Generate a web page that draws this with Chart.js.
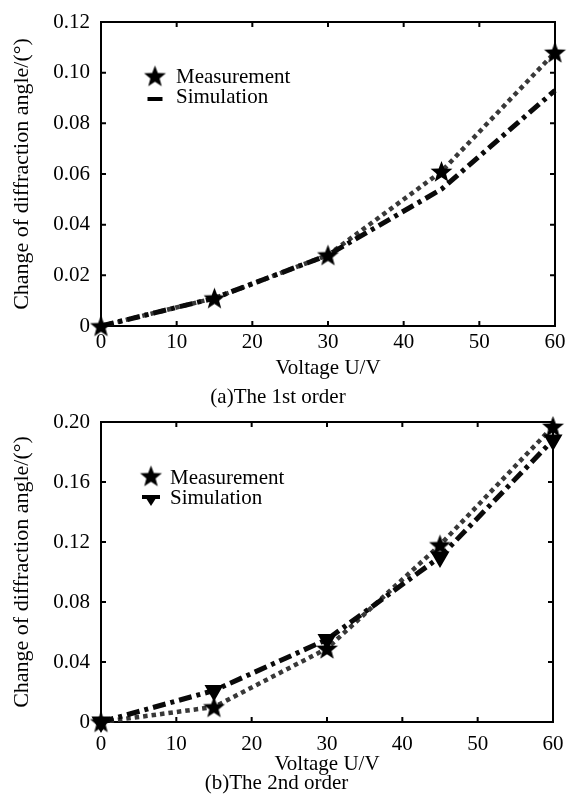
<!DOCTYPE html>
<html>
<head>
<meta charset="utf-8">
<title>Change of diffraction angle vs voltage</title>
<script src="https://cdn.jsdelivr.net/npm/chart.js@4.4.1/dist/chart.umd.min.js"></script>
<style>
  html, body { margin: 0; padding: 0; background: #fff; }
  #wrap { position: relative; width: 567px; height: 801px; }
  canvas { position: absolute; left: 0; }
  #chart-a { top: 0; }
  #chart-b { top: 410px; }
</style>
</head>
<body>
<div id="wrap">
  <canvas id="chart-a" width="567" height="410"></canvas>
  <canvas id="chart-b" width="567" height="391"></canvas>
</div>
<script>
// --- values ---
const voltage = [0, 15, 30, 45, 60];
const xTicks = [0, 10, 20, 30, 40, 50, 60];

// (a) 1st order
const measured1 = [0, 0.011, 0.028, 0.061, 0.108];
const simulated1 = [0, 0.011, 0.028, 0.054, 0.093];
const yTicks1 = [0, 0.02, 0.04, 0.06, 0.08, 0.10, 0.12];

// (b) 2nd order
const measured2 = [0, 0.010, 0.049, 0.118, 0.197];
const simulated2 = [0, 0.021, 0.055, 0.110, 0.188];
const yTicks2 = [0, 0.04, 0.08, 0.12, 0.16, 0.20];

const xTitle = 'Voltage U/V';
const yTitle = 'Change of diffraction angle/(°)';

Chart.defaults.font.family = '"Liberation Serif", "Times New Roman", serif';
Chart.defaults.color = '#000';

// filled five point star, used as point style and in the legend
function drawStar(ctx, cx, cy, r) {
    const inner = r * 0.42;
    ctx.beginPath();
    for (let i = 0; i < 10; i++) {
        const rad = i % 2 === 0 ? r : inner;
        const a = -Math.PI / 2 + i * Math.PI / 5;
        const px = cx + rad * Math.cos(a);
        const py = cy + rad * Math.sin(a);
        if (i === 0) ctx.moveTo(px, py); else ctx.lineTo(px, py);
    }
    ctx.closePath();
    ctx.fill();
}

function makeStarImage(r) {
    const c = document.createElement('canvas');
    c.width = Math.ceil(r * 2 + 2);
    c.height = Math.ceil(r * 2 + 2);
    const g = c.getContext('2d');
    g.fillStyle = '#000';
    drawStar(g, c.width / 2, c.height / 2 + r * 0.08, r);
    return c;
}

const starImg = makeStarImage(11.5);

const pts = (ys) => voltage.map((v, i) => ({ x: v, y: ys[i] }));

// MATLAB-like box with inward tick marks on all four sides
const boxTicks = {
    id: 'boxTicks',
    beforeDatasetsDraw(chart) {
        const { ctx, chartArea: a, scales: { x, y } } = chart;
        ctx.save();
        ctx.strokeStyle = '#000';
        ctx.lineWidth = 2;
        ctx.strokeRect(a.left, a.top, a.right - a.left, a.bottom - a.top);
        ctx.beginPath();
        x.ticks.forEach(t => {
            const px = x.getPixelForValue(t.value);
            ctx.moveTo(px, a.bottom); ctx.lineTo(px, a.bottom - 5);
            ctx.moveTo(px, a.top); ctx.lineTo(px, a.top + 5);
        });
        y.ticks.forEach(t => {
            const py = y.getPixelForValue(t.value);
            ctx.moveTo(a.left, py); ctx.lineTo(a.left + 5, py);
            ctx.moveTo(a.right, py); ctx.lineTo(a.right - 5, py);
        });
        ctx.stroke();
        ctx.restore();
    }
};

// legend drawn inside the plot area, upper left
const insideLegend = {
    id: 'insideLegend',
    afterDatasetsDraw(chart, args, opts) {
        const { ctx, chartArea: a } = chart;
        ctx.save();
        ctx.font = '21px "Liberation Serif", "Times New Roman", serif';
        ctx.fillStyle = '#000';
        ctx.textBaseline = 'alphabetic';
        ctx.textAlign = 'left';
        opts.items.forEach(item => {
            const mx = a.left + opts.markerX;
            const my = a.top + item.markerY;
            if (item.marker === 'star') {
                ctx.drawImage(starImg, mx - starImg.width / 2, my - starImg.height / 2);
            } else if (item.marker === 'bar') {
                ctx.fillRect(mx - 7.5, my - 2, 15, 4);
            } else if (item.marker === 'triangle') {
                ctx.fillRect(mx - 9, my - 4, 18, 4);
                ctx.beginPath();
                ctx.moveTo(mx - 7, my - 4);
                ctx.lineTo(mx + 7, my - 4);
                ctx.lineTo(mx, my + 7);
                ctx.closePath();
                ctx.fill();
            }
            ctx.fillText(item.text, a.left + opts.textX, a.top + item.baseY);
        });
        ctx.restore();
    }
};

function buildChart(id, o) {
    return new Chart(document.getElementById(id), {
        type: 'line',
        data: {
            datasets: [
                {
                    label: 'Measurement',
                    data: pts(o.measured),
                    showLine: false,
                    pointStyle: starImg,
                    pointRadius: 11,
                    order: 0,
                    clip: false
                },
                {
                    label: 'Simulation',
                    data: pts(o.simulated),
                    borderColor: '#0a0a0a',
                    borderWidth: 5,
                    borderDash: [13, 5, 4, 5],
                    tension: 0,
                    pointRadius: o.simPointRadius,
                    pointStyle: 'triangle',
                    rotation: 180,
                    pointBackgroundColor: '#000',
                    pointBorderColor: '#000',
                    order: 1,
                    clip: false
                },
                {
                    label: 'Measurement',
                    data: pts(o.measured),
                    borderColor: '#383838',
                    borderWidth: 4.5,
                    borderDash: [4.5, 4],
                    tension: 0,
                    pointRadius: 0,
                    order: 2,
                    clip: false
                }
            ]
        },
        options: {
            responsive: false,
            animation: false,
            devicePixelRatio: 1,
            layout: { padding: o.padding },
            plugins: {
                legend: { display: false },
                tooltip: { enabled: false },
                title: {
                    display: true,
                    position: 'bottom',
                    text: o.caption,
                    color: '#000',
                    font: { size: 21, weight: 'normal' },
                    padding: { top: 0, bottom: o.captionPad }
                },
                insideLegend: o.legend
            },
            scales: {
                x: {
                    type: 'linear',
                    min: 0,
                    max: 60,
                    afterBuildTicks: s => { s.ticks = xTicks.map(v => ({ value: v })); },
                    ticks: { padding: o.xTickPad, font: { size: 21 }, color: '#000', maxRotation: 0 },
                    grid: { display: false, drawTicks: false },
                    border: { display: false },
                    title: {
                        display: true,
                        text: xTitle,
                        color: '#000',
                        font: { size: 21 },
                        padding: { top: 0, bottom: o.xTitlePad }
                    },
                    afterFit: s => { s.height = o.xAxisHeight; s.paddingLeft = 0; s.paddingRight = 0; }
                },
                y: {
                    min: 0,
                    max: o.yMax,
                    afterBuildTicks: s => { s.ticks = o.yTicks.map(v => ({ value: v })); },
                    ticks: {
                        padding: 11,
                        font: { size: 21 },
                        color: '#000',
                        callback: v => v === 0 ? '0' : v.toFixed(2)
                    },
                    grid: { display: false, drawTicks: false },
                    border: { display: false },
                    title: {
                        display: true,
                        text: yTitle,
                        color: '#000',
                        font: { size: 22 },
                        padding: { top: 9, bottom: 0 }
                    },
                    afterFit: s => { s.width = 101; s.paddingTop = 0; s.paddingBottom = 0; }
                }
            }
        },
        plugins: [boxTicks, insideLegend]
    });
}

buildChart('chart-a', {
    measured: measured1,
    simulated: simulated1,
    yTicks: yTicks1,
    yMax: 0.12,
    simPointRadius: 0,
    caption: '(a)The 1st order',
    captionPad: 0,
    padding: { top: 22, right: 11, left: 0, bottom: 0 },
    xAxisHeight: 58.8,
    xTickPad: 4,
    xTitlePad: 4.2,
    legend: {
        markerX: 54,
        textX: 75,
        items: [
            { text: 'Measurement', marker: 'star', markerY: 54, baseY: 61 },
            { text: 'Simulation', marker: 'bar', markerY: 77, baseY: 81 }
        ]
    }
});

buildChart('chart-b', {
    measured: measured2,
    simulated: simulated2,
    yTicks: yTicks2,
    yMax: 0.20,
    simPointRadius: 6,
    caption: '(b)The 2nd order',
    captionPad: 5.4,
    padding: { top: 8, right: 14, left: 0, bottom: 0 },
    xAxisHeight: 48.4,
    xTickPad: 9.4,
    xTitlePad: -6.2,
    legend: {
        markerX: 50,
        textX: 69,
        items: [
            { text: 'Measurement', marker: 'star', markerY: 54, baseY: 62 },
            { text: 'Simulation', marker: 'triangle', markerY: 77, baseY: 82 }
        ]
    }
});
</script>
</body>
</html>
